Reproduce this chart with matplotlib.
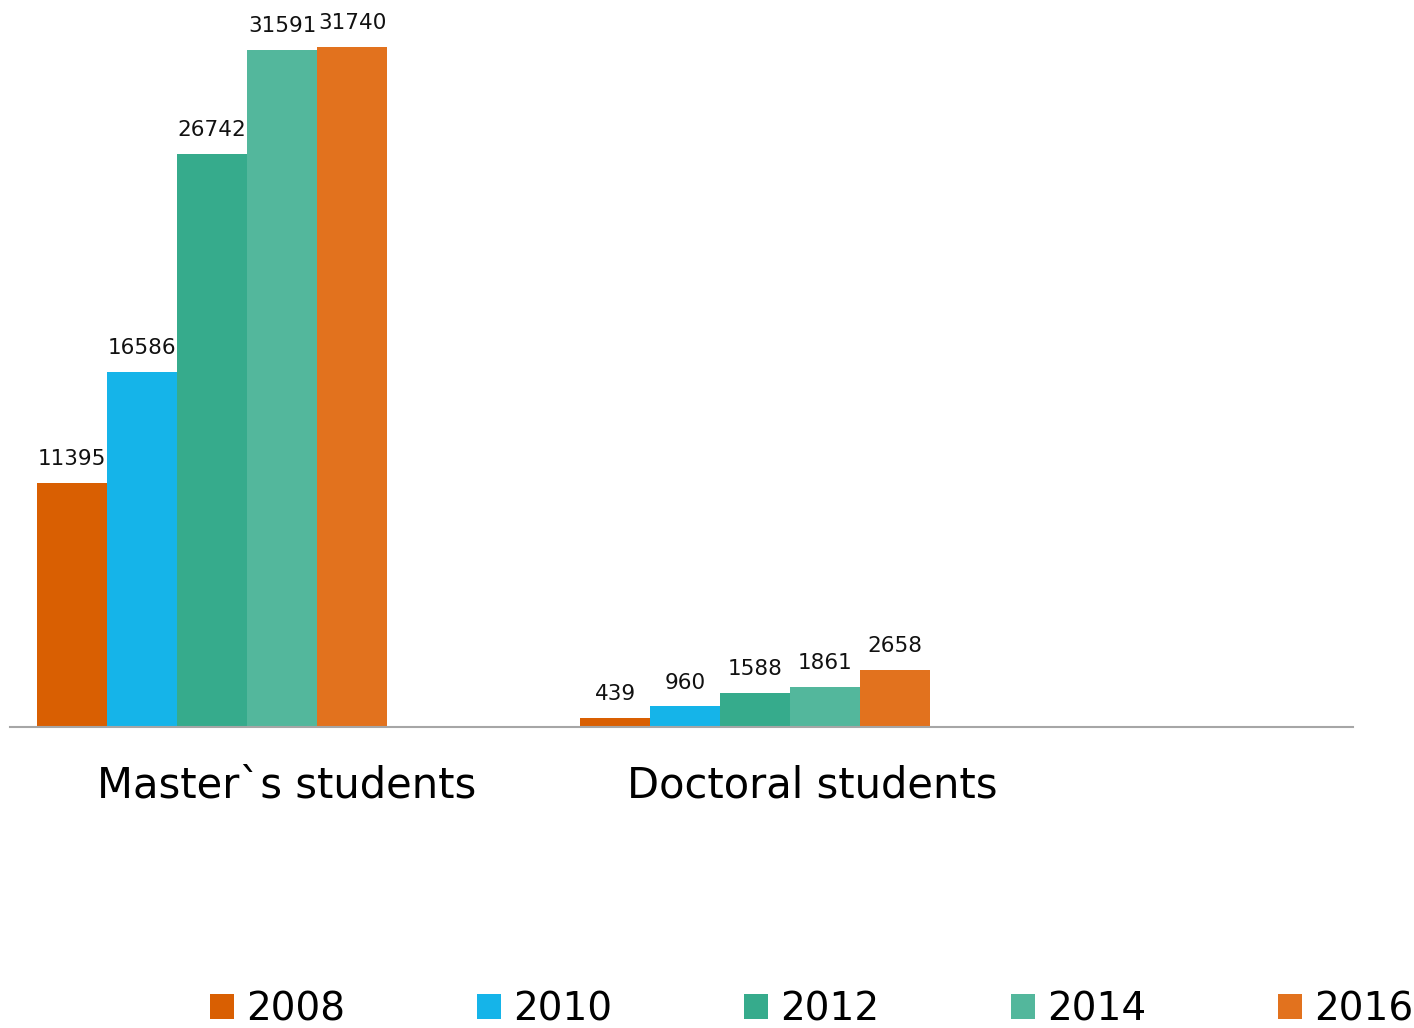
import matplotlib
matplotlib.use('Agg')
import matplotlib.pyplot as plt
import numpy as np

## chart data
groups = ["Master`s students", "Doctoral students"]
years = ['2008', '2010', '2012', '2014', '2016']
masters = [11395, 16586, 26742, 31591, 31740]
doctoral = [439, 960, 1588, 1861, 2658]
colors = ['#D95F02', '#15B4E9', '#36AB8C', '#53B79C', '#E2721E']

plt.rcParams['font.family'] = ['DejaVu Sans']

fig = plt.figure(figsize=(14.14, 10.28), dpi=100)
ax = fig.add_axes([10/1414, 301/1028, 1343/1414, 707/1028])

w = 70/543
x = np.arange(len(groups))
for i, yr in enumerate(years):
    vals = [masters[i], doctoral[i]]
    pos = x + (i - 2) * w
    bars = ax.bar(pos, vals, width=w, color=colors[i], label=yr, zorder=2)
    for b, v in zip(bars, vals):
        ax.text(b.get_x() + b.get_width()/2, v + 650, str(v),
                ha='center', va='bottom', fontsize=15.5, color='#111111')

ax.set_xlim(-202/543, 1141/543)
ax.set_ylim(0, 31740*707/680)

for s in ['top', 'right', 'left']:
    ax.spines[s].set_visible(False)
ax.spines['bottom'].set_color('#A6A6A6')
ax.spines['bottom'].set_linewidth(1.5)
ax.set_yticks([])
ax.set_xticks([74.5/543, 1 + 57.5/543])
ax.set_xticklabels(groups, fontsize=30)
ax.tick_params(axis='x', length=0, pad=27)

fig.legend(loc='center', bbox_to_anchor=(0.574, 0.018), ncol=5, frameon=False,
           fontsize=28, handlelength=0.62, handleheight=0.62, handletextpad=0.3,
           columnspacing=3.4, borderpad=0)

plt.savefig('out.png', dpi=100)
